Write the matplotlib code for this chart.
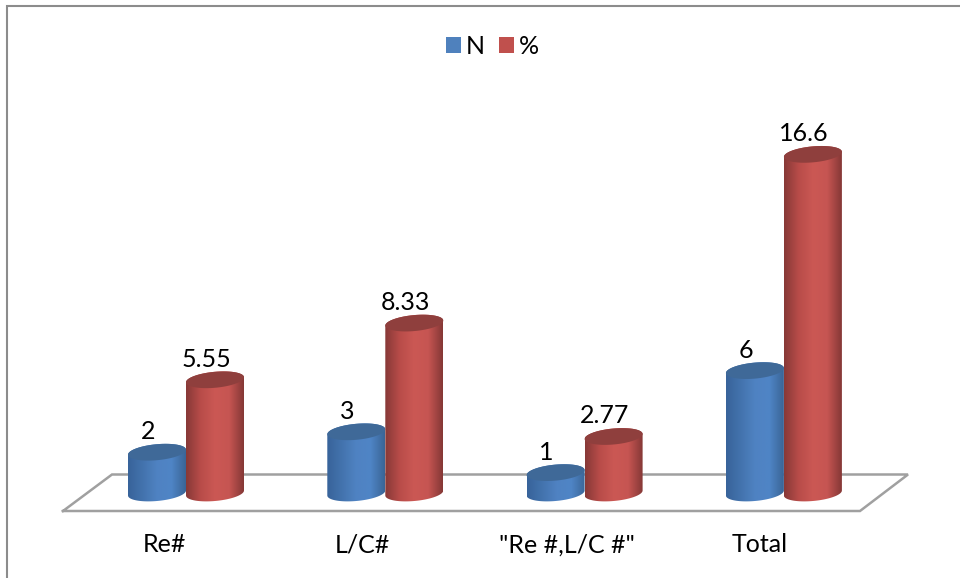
import matplotlib
matplotlib.use("Agg")
import matplotlib.pyplot as plt
import numpy as np
from matplotlib.colors import LinearSegmentedColormap
from matplotlib.lines import Line2D
from matplotlib.patches import Patch, Polygon

categories = ['Re#', 'L/C#', '"Re #,L/C #"', 'Total']
n_values = [2, 3, 1, 6]
pct_values = [5.55, 8.33, 2.77, 16.6]
n_labels = ['2', '3', '1', '6']
pct_labels = ['5.55', '8.33', '2.77', '16.6']

plt.rcParams['font.family'] = ['Lato', 'DejaVu Sans']

W, H = 960, 578
# scale of the drawing, pixels per group / pixels per value
GROUP_PX = 199.3
VALUE_PX = 20.4
X0_PX, Y0_PX = 186, 493

fig = plt.figure(figsize=(9.6, 5.78), dpi=100)
ax = fig.add_axes([0, 0, 1, 1])
ax.axis('off')
xlim = (-X0_PX / GROUP_PX, (W - X0_PX) / GROUP_PX)
ylim = ((Y0_PX - H) / VALUE_PX, Y0_PX / VALUE_PX)


def px_line(xs, ys, **kw):
    # line given in image pixels, for the frame and the floor
    fig.add_artist(Line2D(np.array(xs) / W, 1 - np.array(ys) / H,
                          transform=fig.transFigure, zorder=-1, **kw))


def ellipse(cx, y, half_w, start, stop):
    t = np.linspace(start, stop, 60)
    xs = cx + half_w * np.cos(t)
    ys = y + (8.0 * np.sin(t) + 2.5 * np.cos(t)) / VALUE_PX
    return np.column_stack([xs, ys])


def cylinder(cx, value, width, cmap, top_color):
    half_w = width / 2
    # outline: front half of the bottom, then back half of the top
    outline = np.vstack([ellipse(cx, 0, half_w, np.pi, 2 * np.pi),
                         ellipse(cx, value, half_w, 0, np.pi)])
    body = Polygon(outline, closed=True, transform=ax.transData, facecolor='none', edgecolor='none')
    ax.add_patch(body)
    grad = np.linspace(0, 1, 128).reshape(1, -1)
    im = ax.imshow(grad, cmap=cmap, aspect='auto', zorder=3,
                   extent=(cx - half_w, cx + half_w, -1, value + 1))
    im.set_clip_path(body)
    ax.add_patch(Polygon(ellipse(cx, value, half_w, 0, 2 * np.pi), closed=True,
                         facecolor=top_color, edgecolor='none', zorder=3))


blue_map = LinearSegmentedColormap.from_list('blue', ['#38639a', '#4373ad', '#4f82c2', '#4f85c6', '#3a6596'])
red_map = LinearSegmentedColormap.from_list('red', ['#873937', '#b84c49', '#cb5854', '#c65552', '#853836'])

# frame and floor
px_line([7, 7, 960], [578, 5.5, 5.5], color='#8c8c8c', lw=1.5, solid_joinstyle='miter')
px_line([63, 112, 908, 860, 63], [511, 474.5, 474.5, 511, 511], color='#a0a0a0', lw=1.8, solid_joinstyle='miter')

bar_w = 58 / GROUP_PX
offset = 29 / GROUP_PX
label_dx = 9 / GROUP_PX
for i in range(len(categories)):
    cylinder(i - offset, n_values[i], bar_w, blue_map, '#3f6998')
    cylinder(i + offset, pct_values[i], bar_w, red_map, '#8f3f3d')
    ax.text(i - offset - label_dx, n_values[i] + 20.5 / VALUE_PX, n_labels[i],
            ha='center', va='center', fontsize=18, color='black', zorder=5)
    ax.text(i + offset - label_dx, pct_values[i] + 20.5 / VALUE_PX, pct_labels[i],
            ha='center', va='center', fontsize=18, color='black', zorder=5)

# the category labels are not evenly spaced in the original
label_x = [-0.11, 0.885, 1.91, 2.88]
for x, name in zip(label_x, categories):
    ax.text(x, -52 / VALUE_PX, name, ha='center', va='center', fontsize=18, color='black')

ax.set_xlim(xlim)
ax.set_ylim(ylim)

handles = [Patch(facecolor='#4f81bd', label='N'), Patch(facecolor='#c0504d', label='%')]
fig.legend(handles=handles, loc='center', bbox_to_anchor=(492.5 / W, 1 - 46.5 / H), ncol=2, frameon=False,
           fontsize=18, handlelength=0.6, handleheight=0.6, handletextpad=0.22, columnspacing=0.55)

fig.savefig('out.png', dpi=100)
